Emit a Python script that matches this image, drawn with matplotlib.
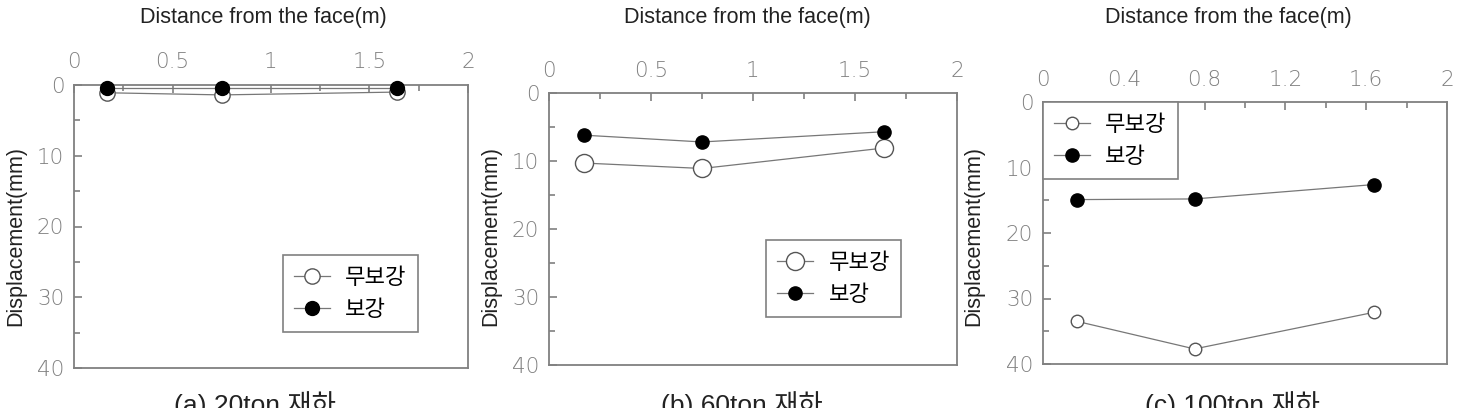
import numpy as np
import matplotlib.pyplot as plt
from matplotlib.ticker import MultipleLocator, FormatStrFormatter

plt.rcParams['font.family'] = ['Liberation Sans', 'Noto Sans CJK KR', 'DejaVu Sans']

# distance from the face (m)
x_pos = [0.17, 0.75, 1.64]

# displacement (mm)
a_unreinf = [1.1, 1.4, 1.0]
a_reinf = [0.4, 0.4, 0.4]
b_unreinf = [10.3, 11.1, 8.1]
b_reinf = [6.2, 7.2, 5.7]
c_unreinf = [33.5, 37.7, 32.1]
c_reinf = [14.9, 14.8, 12.6]

labels = ['무보강', '보강']
captions = ['(a) 20ton 재하', '(b) 60ton 재하', '(c) 100ton 재하']

W, H = 1462, 408
fig = plt.figure(figsize=(W / 100, H / 100), dpi=100)

def box(l, t, r, b):
    return [l / W, 1 - b / H, (r - l) / W, (b - t) / H]

panels = [
    dict(rect=box(74, 85, 468, 368), un=a_unreinf, re=a_reinf, major=0.5, minor=0.25,
         ms=(11, 10), leg=dict(loc='lower right', bbox_to_anchor=(0.873, 0.127)),
         title_x=263, title_y=18, ylab_x=16, cap_x=255),
    dict(rect=box(549, 93, 957, 365), un=b_unreinf, re=b_reinf, major=0.5, minor=0.25,
         ms=(13, 9.5), leg=dict(loc='lower right', bbox_to_anchor=(0.863, 0.176)),
         title_x=747, title_y=17, ylab_x=491, cap_x=742),
    dict(rect=box(1043, 102, 1447, 364), un=c_unreinf, re=c_reinf, major=0.4, minor=0.2,
         ms=(9, 9.5), leg=dict(loc='upper left', bbox_to_anchor=(0.0, 1.0)),
         title_x=1228, title_y=17, ylab_x=974, cap_x=1232),
]

gray = '#808080'
tick_font = dict(family='DejaVu Sans', size=15.5, weight=200)
for p, cap in zip(panels, captions):
    ax = fig.add_axes(p['rect'])
    ax.plot(x_pos, p['un'], '-', color='#777777', lw=0.9, marker='o', ms=p['ms'][0],
            mfc='white', mec='#555555', mew=1.0, label=labels[0], clip_on=False, zorder=3)
    ax.plot(x_pos, p['re'], '-', color='#777777', lw=0.9, marker='o', ms=p['ms'][1],
            mfc='black', mec='black', label=labels[1], clip_on=False, zorder=4)
    ax.set_xlim(0, 2)
    ax.set_ylim(40, 0)
    ax.xaxis.set_major_locator(MultipleLocator(p['major']))
    ax.xaxis.set_minor_locator(MultipleLocator(p['minor']))
    ax.xaxis.set_major_formatter(FormatStrFormatter('%g'))
    ax.yaxis.set_major_locator(MultipleLocator(10))
    ax.yaxis.set_minor_locator(MultipleLocator(5))
    ax.xaxis.tick_top()
    ax.tick_params(which='both', direction='in', color=gray, width=1.2)
    ax.tick_params(which='major', length=6, labelcolor='#808080')
    ax.tick_params(which='minor', length=4)
    ax.tick_params(axis='x', pad=9)
    ax.tick_params(axis='y', pad=7)
    for t in ax.get_xticklabels() + ax.get_yticklabels():
        t.set_fontproperties(tick_font)
    for s in ax.spines.values():
        s.set_color(gray)
        s.set_linewidth(1.3)
    leg = ax.legend(prop=dict(family=['Noto Sans CJK KR', 'DejaVu Sans'], size=16),
                    frameon=True, fancybox=False, framealpha=1,
                    edgecolor=gray, handlelength=1.6, borderpad=0.5, handletextpad=0.7,
                    borderaxespad=0, labelspacing=0.4, **p['leg'])
    leg.get_frame().set_linewidth(1.2)

    fig.text(p['title_x'] / W, 1 - p['title_y'] / H, 'Distance from the face(m)',
             ha='center', va='center', fontsize=15.5, color='#222222')
    fig.text(p['ylab_x'] / W, 1 - 236 / H, 'Displacement(mm)', rotation=90,
             ha='center', va='center', fontsize=15.5, color='#222222')
    fig.text(p['cap_x'] / W, 1 - 391 / H, cap, ha='center', va='top',
             fontsize=19, color='#222222')

fig.savefig('out.png', dpi=100)
